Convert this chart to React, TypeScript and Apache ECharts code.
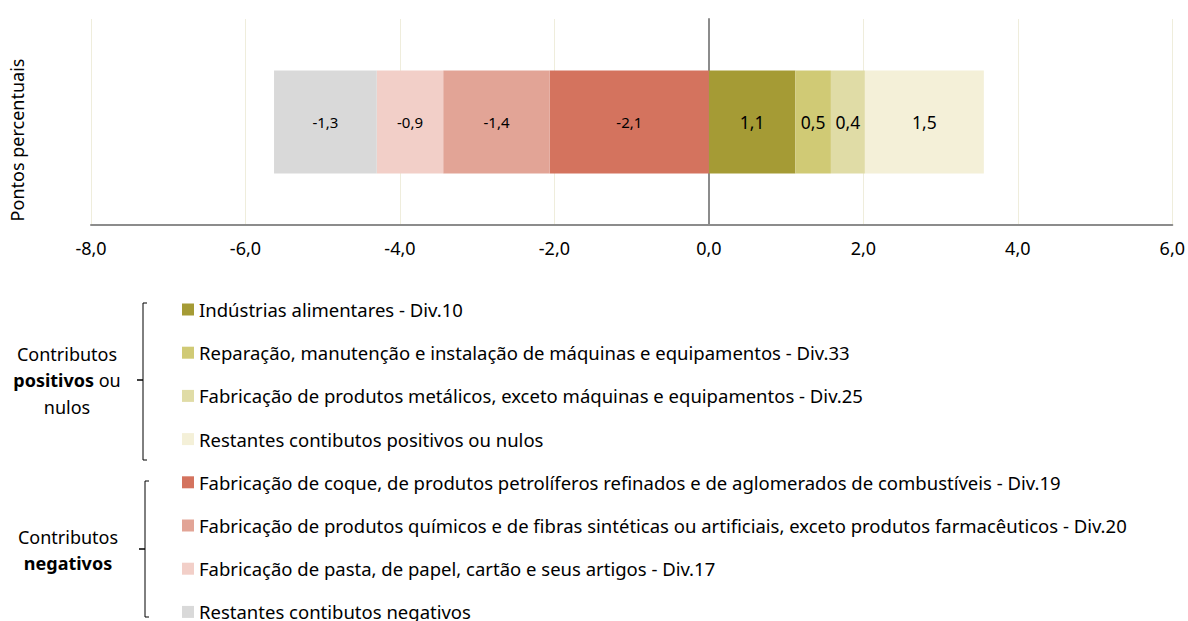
import React, { useEffect, useRef } from "react";
import * as echarts from "echarts";

const categories = ["Contributos"];
const seriesNames = [
  "Indústrias alimentares - Div.10",
  "Reparação, manutenção e instalação de máquinas e equipamentos - Div.33",
  "Fabricação de produtos metálicos, exceto máquinas e equipamentos - Div.25",
  "Restantes contibutos positivos ou nulos",
  "Fabricação de coque, de produtos petrolíferos refinados e de aglomerados de combustíveis - Div.19",
  "Fabricação de produtos químicos e de fibras sintéticas ou artificiais, exceto produtos farmacêuticos - Div.20",
  "Fabricação de pasta, de papel, cartão e seus artigos - Div.17",
  "Restantes contibutos negativos",
];
const seriesValues = [1.12, 0.46, 0.44, 1.54, -2.06, -1.38, -0.86, -1.33];
const seriesColors = [
  "#A59B35",
  "#D0CA75",
  "#E0DCA6",
  "#F4F0D8",
  "#D4735E",
  "#E2A496",
  "#F2CFC8",
  "#D9D9D9",
];
const xTicks = { min: -8, max: 6, interval: 2 };
const yAxisTitle = "Pontos percentuais";

const FONT = "'Noto Sans', sans-serif";
const fmt = (v: number) => v.toFixed(1).replace(".", ",");

export default function App() {
  const ref = useRef<HTMLDivElement>(null);
  useEffect(() => {
    if (!ref.current) return;
    const chart = echarts.init(ref.current, null, { renderer: "svg" });
    const series = seriesNames.map((name, i) => ({
      name,
      type: "bar",
      stack: "total",
      barWidth: 103,
      data: [seriesValues[i]],
      itemStyle: { color: seriesColors[i] },
      label: {
        show: true,
        position: "inside",
        formatter: (p: any) => fmt(p.value),
        color: "#000",
        fontFamily: FONT,
        fontSize: seriesValues[i] >= 0 ? 17.5 : 15,
      },
    }));
    const bracket = (x: number, y1: number, y2: number) => ({
      type: "polyline",
      shape: {
        points: [
          [x + 4, y1],
          [x, y1],
          [x, y2],
          [x + 4, y2],
        ],
      },
      style: { stroke: "#000", lineWidth: 1, fill: null },
    });
    const tick = (x: number, y: number) => ({
      type: "line",
      shape: { x1: x - 6, y1: y, x2: x, y2: y },
      style: { stroke: "#000", lineWidth: 1.5 },
    });
    chart.setOption({
      animation: false,
      textStyle: { fontFamily: FONT },
      grid: { left: 91, right: 14, top: 19, bottom: 396, containLabel: false },
      xAxis: {
        type: "value",
        min: xTicks.min,
        max: xTicks.max,
        interval: xTicks.interval,
        axisLine: { show: true, onZero: false, lineStyle: { color: "#8C8C8C", width: 2 } },
        axisTick: { show: false },
        axisLabel: {
          formatter: (v: number) => fmt(v),
          color: "#000",
          fontSize: 18,
          fontFamily: FONT,
          margin: 14,
        },
        splitLine: { show: true, lineStyle: { color: "#EFEDDC", width: 1 } },
      },
      yAxis: {
        type: "category",
        data: categories,
        axisLine: { show: true, onZero: true, lineStyle: { color: "#8C8C8C", width: 2 } },
        axisTick: { show: false },
        axisLabel: { show: false },
        splitLine: { show: false },
      },
      legend: {
        orient: "vertical",
        left: 182,
        top: 300,
        height: 330,
        padding: 0,
        itemWidth: 12,
        itemHeight: 12,
        itemGap: 24.2,
        icon: "rect",
        selectedMode: false,
        data: seriesNames,
        textStyle: { color: "#000", fontSize: 18.5, fontFamily: FONT, lineHeight: 18 },
      },
      graphic: [
        {
          type: "text",
          x: 17,
          y: 140,
          rotation: Math.PI / 2,
          style: {
            text: yAxisTitle,
            fontSize: 18,
            fontFamily: FONT,
            fill: "#000",
            align: "center",
            verticalAlign: "middle",
          },
        },
        bracket(143, 303, 460),
        tick(143, 380),
        bracket(145, 481, 617),
        tick(145, 549),
        {
          type: "text",
          x: 67,
          y: 380,
          style: {
            text: "Contributos\n{b|positivos} ou\nnulos",
            fontSize: 18,
            fontFamily: FONT,
            fill: "#000",
            align: "center",
            verticalAlign: "middle",
            lineHeight: 26.5,
            rich: { b: { fontWeight: "bold", fontSize: 18, fontFamily: FONT, lineHeight: 26.5 } },
          },
        },
        {
          type: "text",
          x: 68,
          y: 550,
          style: {
            text: "Contributos\n{b|negativos}",
            fontSize: 18,
            fontFamily: FONT,
            fill: "#000",
            align: "center",
            verticalAlign: "middle",
            lineHeight: 26.5,
            rich: { b: { fontWeight: "bold", fontSize: 18, fontFamily: FONT, lineHeight: 26.5 } },
          },
        },
      ],
      series,
    });
    return () => chart.dispose();
  }, []);
  return <div ref={ref} style={{ width: 1188, height: 621, position: "absolute", left: 0, top: 0 }} />;
}
